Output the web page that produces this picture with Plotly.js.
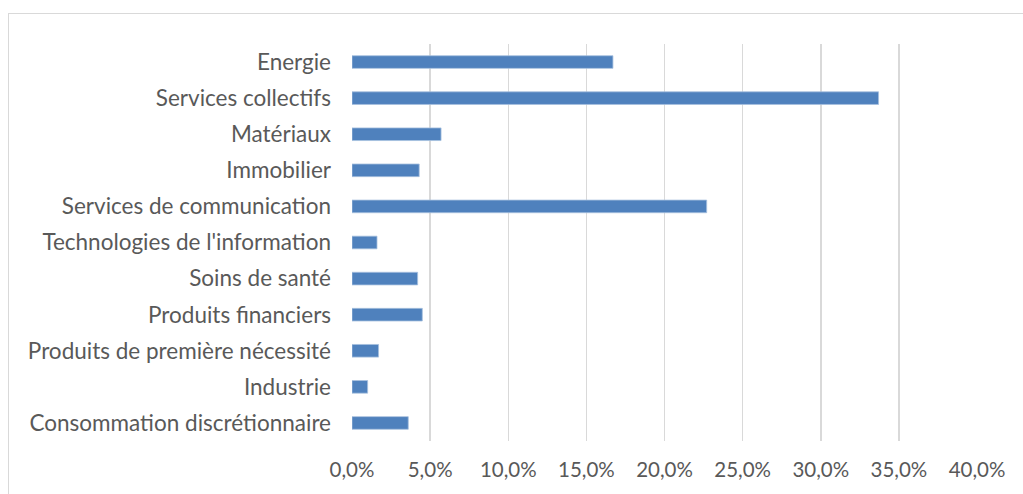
<!DOCTYPE html>
<html>
<head>
<meta charset="utf-8">
<script src="https://cdn.plot.ly/plotly-3.0.1.min.js"></script>
<style>
html,body{margin:0;padding:0;background:#fff;overflow:hidden;}
#wrap{position:relative;width:1023px;height:494px;}
#frame{position:absolute;left:8px;top:13px;width:1100px;height:600px;border-left:1.5px solid #d9d9d9;border-top:1.5px solid #d9d9d9;pointer-events:none;}
#chart{position:absolute;left:0;top:0;width:1023px;height:494px;}
</style>
</head>
<body>
<div id="wrap"><div id="chart"></div><div id="frame"></div></div>
<script>
const categories = ["Energie","Services collectifs","Matériaux","Immobilier","Services de communication","Technologies de l'information","Soins de santé","Produits financiers","Produits de première nécessité","Industrie","Consommation discrétionnaire"];
const values = [0.167,0.337,0.057,0.043,0.227,0.016,0.042,0.045,0.017,0.010,0.036];
const tickVals = [0,0.05,0.10,0.15,0.20,0.25,0.30,0.35,0.40];

const trace = {
  type:'bar', orientation:'h', x:values, y:categories,
  marker:{color:'#4f81bd', line:{color:'#a7c0de', width:0.8}},
  hoverinfo:'x+y'
};
const layout = {
  width:1023, height:494,
  margin:{l:352, r:46, t:44, b:53},
  paper_bgcolor:'#ffffff', plot_bgcolor:'#ffffff',
  separators:', ',
  bargap:0.65,
  showlegend:false,
  font:{family:'Lato, "Open Sans", sans-serif', size:21, color:'#595959'},
  xaxis:{range:[0,0.40], tickvals:tickVals, tickformat:'.1%', showgrid:true, gridcolor:'#d9d9d9', gridwidth:1.5,
         zeroline:false, showline:false, ticks:'', ticklabelstandoff:14, tickfont:{size:20.5}, fixedrange:true},
  yaxis:{autorange:'reversed', type:'category', showgrid:false, zeroline:false, showline:false, ticks:'', ticklabelstandoff:20, tickfont:{size:22.5}, fixedrange:true}
};
Plotly.newPlot('chart',[trace],layout,{displayModeBar:false,staticPlot:true});
</script>
</body>
</html>
